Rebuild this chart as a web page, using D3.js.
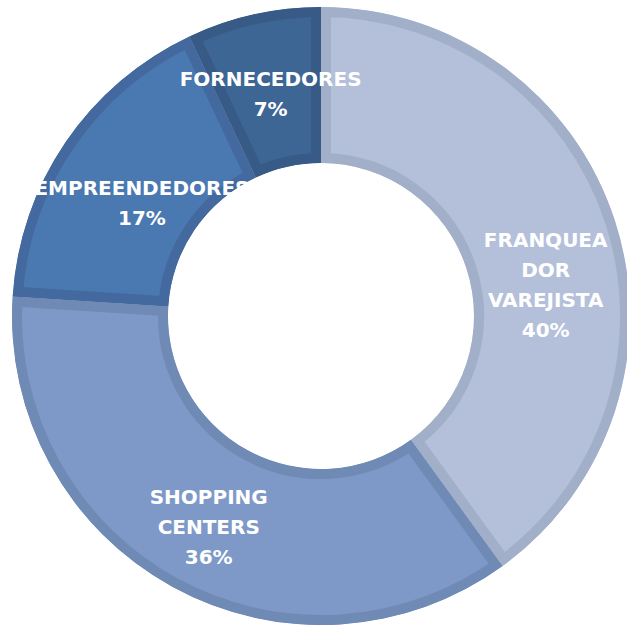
<!DOCTYPE html>
<html>
<head>
<meta charset="utf-8">
<script src="https://cdn.jsdelivr.net/npm/d3@7"></script>
<style>
    html, body { margin: 0; padding: 0; background: #fff; }
    #chart { width: 627px; height: 625px; overflow: hidden; }
    .slice-label { font-family: "DejaVu Sans", sans-serif; font-weight: bold; fill: #fff; }
</style>
</head>
<body>
<div id="chart"></div>
<script>
// Donut chart - share by segment

const categories = ['FRANQUEADOR VAREJISTA', 'SHOPPING CENTERS', 'EMPREENDEDORES', 'FORNECEDORES'];
const values = [40, 36, 17, 7];
const labelLines = [
    ['FRANQUEA', 'DOR', 'VAREJISTA', '40%'],
    ['SHOPPING', 'CENTERS', '36%'],
    ['EMPREENDEDORES', '17%'],
    ['FORNECEDORES', '7%']
];
const fillColors = ['#b4c0da', '#7e99c8', '#4a78b0', '#3e6694'];
const borderColors = ['#a2afc8', '#6f8ab5', '#43699e', '#375a86'];

const DonutChart = {
    width: 627,
    height: 625,
    cx: 321,
    cy: 316,
    outer: 309,
    inner: 153,
    border: 10,
    fontSize: 20,
    lineHeight: 30,
    // nudges from the centroid, like the spreadsheet's label placement
    nudge: [[5, 40], [-1, 8], [12, 17], [0, 3]],

    render() {
        const svg = d3.select('#chart')
            .append('svg')
            .attr('width', this.width)
            .attr('height', this.height);

        const data = categories.map((c, i) => ({ name: c, value: values[i], idx: i }));

        const pie = d3.pie()
            .value(d => d.value)
            .sort(null);

        const arc = d3.arc()
            .innerRadius(this.inner)
            .outerRadius(this.outer);

        const arcs = pie(data);
        const g = svg.append('g')
            .attr('transform', `translate(${this.cx},${this.cy})`);

        const defs = svg.append('defs');
        arcs.forEach((a, i) => {
            defs.append('clipPath')
                .attr('id', `clip-${i}`)
                .append('path')
                .attr('d', arc(a));
        });

        // slices, border drawn on the inside only
        g.selectAll('path.slice')
            .data(arcs)
            .join('path')
            .attr('class', 'slice')
            .attr('d', arc)
            .attr('fill', d => fillColors[d.data.idx])
            .attr('stroke', d => borderColors[d.data.idx])
            .attr('stroke-width', this.border * 2)
            .attr('clip-path', d => `url(#clip-${d.data.idx})`);

        // labels
        arcs.forEach(a => {
            const i = a.data.idx;
            const [x, y] = arc.centroid(a);
            const lines = labelLines[i];
            const blockH = (lines.length - 1) * this.lineHeight;
            const text = g.append('text')
                .attr('class', 'slice-label')
                .attr('text-anchor', 'middle')
                .attr('font-size', this.fontSize + 'px')
                .attr('x', x + this.nudge[i][0])
                .attr('y', y + this.nudge[i][1] - blockH / 2 + this.fontSize * 0.36);

            lines.forEach((line, k) => {
                text.append('tspan')
                    .attr('x', x + this.nudge[i][0])
                    .attr('dy', k === 0 ? 0 : this.lineHeight)
                    .text(line);
            });
        });
    }
};

DonutChart.render();
</script>
</body>
</html>
